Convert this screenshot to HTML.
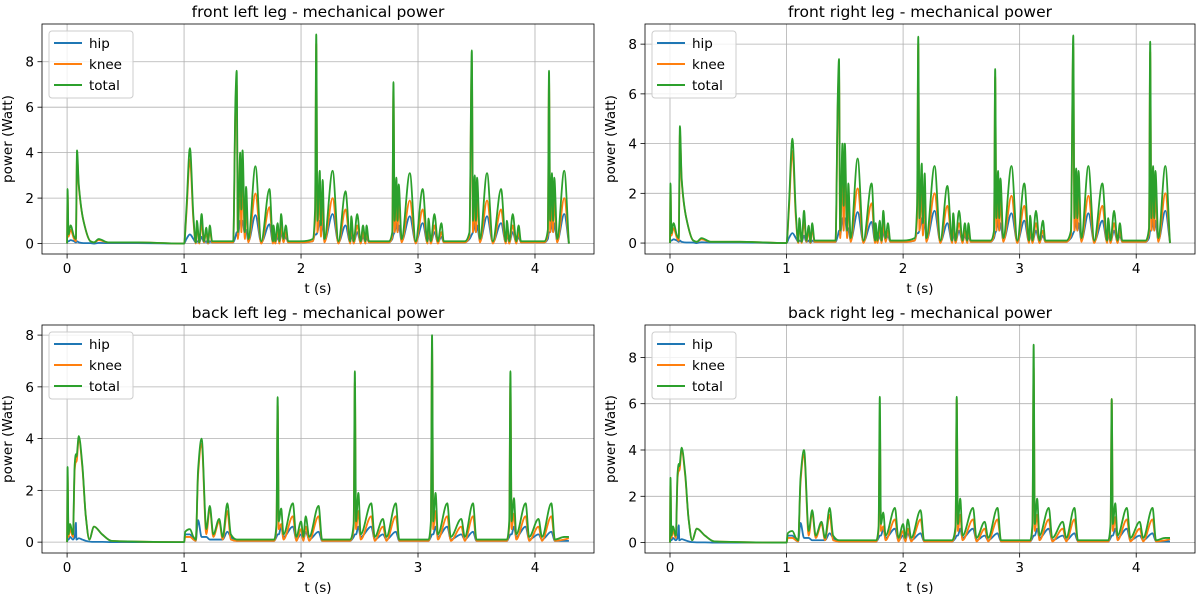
<!DOCTYPE html>
<html><head><meta charset="utf-8"><style>
html,body{margin:0;padding:0;background:#fff}
svg{display:block;font-family:"DejaVu Sans","Liberation Sans",sans-serif}
</style></head><body>
<svg id="fig" width="1200" height="600" viewBox="0 0 1200 600"></svg>
<script>
// ---- shared time axes ----
const tTop = [0,0.004,0.012,0.03,0.06,0.075,0.085,0.1,0.14,0.2,0.23,0.27,0.35,0.6,1.0,
1.02,1.05,1.08,1.1,1.11,1.13,1.15,1.17,1.19,1.205,1.22,1.24,1.3,1.42,
1.44,1.45,1.46,1.48,1.49,1.50,1.52,1.53,1.55,1.61,1.66,1.73,1.76,1.765,1.78,1.80,1.815,1.83,1.85,1.87,1.89,2.0,
2.10,2.12,2.13,2.14,2.16,2.17,2.185,2.2,2.27,2.32,2.38,2.42,2.43,2.45,2.48,2.51,2.53,2.55,2.56,2.58,
2.75,2.78,2.79,2.80,2.815,2.825,2.835,2.86,2.93,2.98,3.04,3.08,3.09,3.11,3.14,3.17,3.20,3.22,
3.40,3.44,3.46,3.47,3.485,3.495,3.505,3.53,3.59,3.64,3.71,3.75,3.76,3.78,3.81,3.84,3.86,3.88,
4.08,4.11,4.12,4.13,4.145,4.155,4.165,4.19,4.25,4.29];
const tlTotal = [0,2.4,0.4,0.8,0.3,0.2,4.1,2.6,1.0,0.1,0.05,0.2,0.05,0.05,0,
1.5,4.2,1.2,0.05,1.0,0.05,1.3,0.1,0.7,0.05,0.8,0.1,0.1,0.1,
6.5,7.6,0.5,4.0,1.5,4.1,0.5,2.5,0.2,3.4,0.1,2.4,0.1,0.8,0.1,0.9,0.1,1.3,0.2,0.8,0.1,0.1,
0.2,1.5,9.2,1.0,3.2,0.8,2.8,0.2,3.2,0.1,2.3,0.1,1.2,0.1,1.3,0.1,0.8,0.1,0.8,0.1,
0.1,0.5,7.1,1.0,2.9,1.0,2.6,0.2,3.1,0.1,2.4,0.1,1.1,0.1,1.3,0.1,0.9,0.1,
0.1,0.5,8.5,1.0,3.0,1.0,2.9,0.2,3.1,0.1,2.4,0.1,1.0,0.1,1.3,0.1,0.8,0.1,
0.1,0.6,7.6,1.0,3.1,1.0,2.9,0.2,3.2,0];
const tlKnee = [0,2.2,0.3,0.6,0.2,0.1,3.8,2.5,1.0,0.1,0.05,0.15,0.05,0.05,0,
1.3,3.7,1.0,0,0.8,0,0.9,0.05,0.5,0,0.6,0.05,0.05,0.05,
6.0,7.0,0.2,3.0,0.5,3.0,0.2,1.8,0.05,2.2,0,1.6,0,0.5,0,0.6,0,0.8,0.05,0.5,0.05,0.05,
0.1,1.0,8.8,0.5,2.2,0.3,1.9,0.05,2.0,0,1.5,0,0.8,0,0.8,0,0.5,0,0.5,0.05,
0.05,0.3,6.8,0.5,2.0,0.5,1.8,0.05,1.9,0,1.5,0,0.7,0,0.8,0,0.5,0.05,
0.05,0.3,8.0,0.5,2.0,0.5,1.9,0.05,1.9,0,1.5,0,0.6,0,0.8,0,0.5,0.05,
0.05,0.4,7.2,0.5,2.1,0.5,2.0,0.05,2.0,0];
const tlHip = [0,0.1,0.1,0.15,0.1,0.05,0.1,0.05,0.02,0.02,0,0.03,0.02,0.02,0,
0.2,0.4,0.2,0.05,0.1,0.05,0.3,0.05,0.1,0,0.1,0.05,0.05,0.05,
0.3,0.5,0.3,1.0,1.0,1.0,0.4,0.6,0.1,1.25,0.05,0.85,0.05,0.3,0.05,0.3,0.05,0.5,0.1,0.3,0.05,0.05,
0.1,0.4,0.4,0.5,1.0,0.5,0.9,0.1,1.3,0.05,0.8,0.05,0.4,0.05,0.5,0.05,0.3,0.05,0.3,0.05,
0.05,0.2,0.4,0.5,0.9,0.5,0.8,0.1,1.2,0.05,0.9,0.05,0.4,0.05,0.5,0.05,0.3,0.05,
0.05,0.2,0.4,0.5,0.9,0.5,0.8,0.1,1.2,0.05,0.9,0.05,0.4,0.05,0.5,0.05,0.3,0.05,
0.05,0.2,0.5,0.5,1.0,0.5,0.9,0.1,1.3,0];
const trTotal = [0,2.4,0.4,0.8,0.3,0.2,4.7,2.6,1.0,0.1,0.05,0.2,0.05,0.05,0,
1.5,4.2,1.2,0.05,1.0,0.05,1.3,0.1,0.7,0.05,0.8,0.1,0.1,0.1,
6.0,7.4,0.5,4.0,1.5,4.0,0.5,2.4,0.2,3.4,0.1,2.4,0.1,0.8,0.1,0.9,0.1,1.3,0.2,0.8,0.1,0.1,
0.2,1.5,8.3,1.0,3.2,0.8,2.8,0.2,3.1,0.1,2.3,0.1,1.2,0.1,1.3,0.1,0.8,0.1,0.8,0.1,
0.1,0.5,7.0,1.0,2.9,1.0,2.6,0.2,3.1,0.1,2.4,0.1,1.1,0.1,1.3,0.1,0.9,0.1,
0.1,0.5,8.35,1.0,3.0,1.0,2.9,0.2,3.1,0.1,2.4,0.1,1.0,0.1,1.3,0.1,0.8,0.1,
0.1,0.6,8.1,1.0,3.1,1.0,2.9,0.2,3.1,0];
const trKnee = [0,2.2,0.3,0.6,0.2,0.1,4.4,2.5,1.0,0.1,0.05,0.15,0.05,0.05,0,
1.3,3.7,1.0,0,0.8,0,0.9,0.05,0.5,0,0.6,0.05,0.05,0.05,
5.6,6.9,0.2,3.0,0.5,3.0,0.2,1.8,0.05,2.2,0,1.6,0,0.5,0,0.6,0,0.8,0.05,0.5,0.05,0.05,
0.1,1.0,8.0,0.5,2.2,0.3,1.9,0.05,2.0,0,1.5,0,0.8,0,0.8,0,0.5,0,0.5,0.05,
0.05,0.3,6.7,0.5,2.0,0.5,1.8,0.05,1.9,0,1.5,0,0.7,0,0.8,0,0.5,0.05,
0.05,0.3,7.9,0.5,2.0,0.5,1.9,0.05,1.9,0,1.5,0,0.6,0,0.8,0,0.5,0.05,
0.05,0.4,7.7,0.5,2.1,0.5,2.0,0.05,2.0,0];
const trHip = tlHip;

const tBot = [0,0.004,0.012,0.025,0.05,0.065,0.075,0.08,0.1,0.13,0.16,0.19,0.23,0.3,0.38,1.0,
1.01,1.05,1.08,1.1,1.12,1.15,1.19,1.22,1.25,1.3,1.33,1.37,1.40,1.45,
1.77,1.79,1.80,1.81,1.83,1.85,1.93,1.96,2.0,2.02,2.04,2.07,2.15,2.18,
2.42,2.45,2.46,2.47,2.49,2.51,2.6,2.63,2.70,2.73,2.81,2.84,
3.09,3.11,3.12,3.13,3.15,3.17,3.25,3.28,3.37,3.40,3.47,3.50,
3.76,3.78,3.79,3.80,3.82,3.84,3.92,3.95,4.03,4.06,4.14,4.17,4.25,4.29];
const blTotal = [0,2.9,0.3,0.7,0.3,3.0,3.4,3.3,4.1,3.0,1.0,0.1,0.6,0.3,0.05,0,
0.4,0.5,0.2,0.1,2.8,4.0,0.5,1.4,0.3,0.9,0.2,1.5,0.3,0.1,
0.1,0.7,5.6,0.8,1.3,0.3,1.5,0.2,0.8,0.2,1.0,0.2,1.4,0.1,
0.1,0.7,6.6,0.8,1.9,0.3,1.5,0.2,0.9,0.2,1.5,0.1,
0.1,0.8,8.0,0.8,1.9,0.3,1.5,0.2,0.9,0.2,1.5,0.1,
0.1,0.8,6.6,0.8,1.7,0.3,1.5,0.2,0.9,0.2,1.5,0.1,0.2,0.2];
const blKnee = [0,2.6,0.2,0.5,0.2,2.8,3.1,3.1,4.0,2.9,1.0,0.1,0.6,0.3,0.05,0,
0.2,0.2,0.1,0.05,2.6,3.8,0.3,1.3,0.2,0.8,0.1,1.2,0.1,0.05,
0.05,0.5,5.3,0.5,0.7,0.1,1.0,0.05,0.5,0.05,0.6,0.05,1.0,0.05,
0.05,0.5,6.2,0.5,1.2,0.1,1.0,0.05,0.6,0.05,1.0,0.05,
0.05,0.6,7.6,0.5,1.2,0.1,1.0,0.05,0.6,0.05,1.0,0.05,
0.05,0.6,6.2,0.5,1.1,0.1,1.0,0.05,0.6,0.05,1.0,0.05,0.1,0.15];
const blHip = [0,0.1,0.1,0.2,0.1,0.2,0.75,0.1,0.15,0.1,0.05,0.02,0.01,0.01,0,0,
0.3,0.3,0.1,0.05,0.85,0.2,0.2,0.1,0.1,0.1,0.1,0.4,0.2,0.05,
0.05,0.2,0.3,0.3,0.6,0.2,0.6,0.1,0.3,0.1,0.4,0.1,0.4,0.05,
0.05,0.2,0.3,0.3,0.6,0.2,0.6,0.1,0.3,0.1,0.4,0.05,
0.05,0.2,0.3,0.3,0.6,0.2,0.6,0.1,0.3,0.1,0.4,0.05,
0.05,0.2,0.3,0.3,0.6,0.2,0.6,0.1,0.3,0.1,0.4,0.05,0.05,0.05];
const brTotal = [0,2.8,0.3,0.7,0.3,3.0,3.4,3.3,4.1,3.0,1.0,0.1,0.6,0.3,0.05,0,
0.4,0.5,0.2,0.1,2.8,4.0,0.5,1.4,0.3,0.9,0.2,1.5,0.3,0.1,
0.1,0.7,6.3,0.8,1.3,0.3,1.5,0.2,0.8,0.2,1.0,0.2,1.4,0.1,
0.1,0.7,6.3,0.8,1.9,0.3,1.5,0.2,0.9,0.2,1.5,0.1,
0.1,0.8,8.55,0.8,1.9,0.3,1.5,0.2,0.9,0.2,1.5,0.1,
0.1,0.8,6.2,0.8,1.7,0.3,1.5,0.2,0.9,0.2,1.5,0.1,0.2,0.2];
const brKnee = blKnee;
const brHip = blHip;

const xTicks = [0,1,2,3,4];
const yTicks = [0,2,4,6,8];
const seriesNames = ["hip","knee","total"];
const colors = {hip:"#1f77b4",knee:"#ff7f0e",total:"#2ca02c"};

const panels = [
 {name:"front-left", title:"front left leg - mechanical power", x0:42,x1:594,y0:24,y1:254, ylim:[-0.46,9.66], t:tTop, s:{hip:tlHip,knee:tlKnee,total:tlTotal}},
 {name:"front-right", title:"front right leg - mechanical power", x0:645,x1:1195,y0:24,y1:254, ylim:[-0.44,8.81], t:tTop, s:{hip:trHip,knee:trKnee,total:trTotal}},
 {name:"back-left", title:"back left leg - mechanical power", x0:42,x1:594,y0:325,y1:553, ylim:[-0.42,8.39], t:tBot, s:{hip:blHip,knee:blKnee,total:blTotal}},
 {name:"back-right", title:"back right leg - mechanical power", x0:645,x1:1195,y0:325,y1:553, ylim:[-0.45,9.4], t:tBot, s:{hip:brHip,knee:brKnee,total:brTotal}}
];
const xlim = [-0.2145,4.5045];
const NS = "http://www.w3.org/2000/svg";
const svg = document.getElementById("fig");
function mk(tag, attrs, parent){
  const e = document.createElementNS(NS, tag);
  for (const k in attrs) e.setAttribute(k, attrs[k]);
  (parent||svg).appendChild(e);
  return e;
}
// monotone cubic path (no overshoot) through screen points
function monoPath(xs, ys){
  const n = xs.length, d = [], m = new Array(n).fill(0);
  for (let i=0;i<n-1;i++){ const h=xs[i+1]-xs[i]; d.push(h>0?(ys[i+1]-ys[i])/h:0); }
  m[0]=d[0]; m[n-1]=d[n-2];
  for (let i=1;i<n-1;i++){
    if (d[i-1]*d[i]<=0) m[i]=0;
    else { const h0=xs[i]-xs[i-1], h1=xs[i+1]-xs[i];
      const w1=2*h1+h0, w2=h1+2*h0; m[i]=(w1+w2)/(w1/d[i-1]+w2/d[i]); }
  }
  let s = "M"+xs[0].toFixed(2)+","+ys[0].toFixed(2);
  for (let i=0;i<n-1;i++){
    const h=(xs[i+1]-xs[i])/3;
    s += "C"+(xs[i]+h).toFixed(2)+","+(ys[i]+m[i]*h).toFixed(2)+" "+(xs[i+1]-h).toFixed(2)+","+(ys[i+1]-m[i+1]*h).toFixed(2)+" "+xs[i+1].toFixed(2)+","+ys[i+1].toFixed(2);
  }
  return s;
}
panels.forEach(p=>{
  const g = mk("g",{});
  
  
  const sx = v => p.x0 + (v - xlim[0])/(xlim[1]-xlim[0])*(p.x1-p.x0);
  const sy = v => p.y1 - (v - p.ylim[0])/(p.ylim[1]-p.ylim[0])*(p.y1-p.y0);
  const defs = mk("defs",{},g);
  const cp = mk("clipPath",{id:"clip-"+p.name},defs);
  mk("rect",{x:p.x0,y:p.y0,width:p.x1-p.x0,height:p.y1-p.y0},cp);
  xTicks.forEach(v=>{
    const x = sx(v);
    const gl = mk("line",{x1:x,x2:x,y1:p.y0,y2:p.y1,stroke:"#b0b0b0","stroke-width":0.8},g);
    
    
    mk("line",{x1:x,x2:x,y1:p.y1,y2:p.y1+4.5,stroke:"#000","stroke-width":0.8},g);
    const tx = mk("text",{x:x,y:p.y1+19,"text-anchor":"middle","font-size":"13.5px",fill:"#000"},g);
    tx.textContent = String(v);
    
    
  });
  yTicks.forEach(v=>{
    const y = sy(v);
    const gl = mk("line",{x1:p.x0,x2:p.x1,y1:y,y2:y,stroke:"#b0b0b0","stroke-width":0.8},g);
    
    
    mk("line",{x1:p.x0-4.5,x2:p.x0,y1:y,y2:y,stroke:"#000","stroke-width":0.8},g);
    const tx = mk("text",{x:p.x0-8,y:y+5,"text-anchor":"end","font-size":"13.5px",fill:"#000"},g);
    tx.textContent = String(v);
    
    
  });
  const sg = mk("g",{"clip-path":"url(#clip-"+p.name+")"},g);
  seriesNames.forEach(n=>{
    const vals = p.s[n];
    const xs = p.t.map(t=>sx(t)), ys = vals.map(v=>sy(v));
    const pl = mk("path",{d:monoPath(xs,ys),fill:"none",stroke:colors[n],"stroke-width":1.8,"stroke-linejoin":"round"},sg);
    
    
  });
  const fr = mk("rect",{x:p.x0,y:p.y0,width:p.x1-p.x0,height:p.y1-p.y0,fill:"none",stroke:"#000","stroke-width":0.8},g);
  
  
  const ti = mk("text",{x:(p.x0+p.x1)/2,y:p.y0-7,"text-anchor":"middle","font-size":"15.5px",fill:"#000"},g);
  ti.textContent = p.title;
  
  
  const xl = mk("text",{x:(p.x0+p.x1)/2,y:p.y1+39,"text-anchor":"middle","font-size":"13.5px",fill:"#000"},g);
  xl.textContent = "t (s)";
  
  
  const yc = (p.y0+p.y1)/2, yx = p.x0-30;
  const yl = mk("text",{x:yx,y:yc,"text-anchor":"middle","font-size":"13.5px",fill:"#000",transform:"rotate(-90 "+yx+" "+yc+")"},g);
  yl.textContent = "power (Watt)";
  
  
  const lg = mk("g",{},g);
  
  
  mk("rect",{x:p.x0+7,y:p.y0+7,width:84,height:67,rx:3,fill:"#fff","fill-opacity":0.8,stroke:"#cccccc","stroke-width":1},lg);
  seriesNames.forEach((n,i)=>{
    const y = p.y0+19+i*21;
    const le = mk("g",{},lg);
    
    
    mk("line",{x1:p.x0+12,x2:p.x0+40,y1:y,y2:y,stroke:colors[n],"stroke-width":2},le);
    const lt = mk("text",{x:p.x0+47,y:y+5,"font-size":"13.5px",fill:"#000"},le);
    lt.textContent = n;
  });
});
</script>
</body></html>
